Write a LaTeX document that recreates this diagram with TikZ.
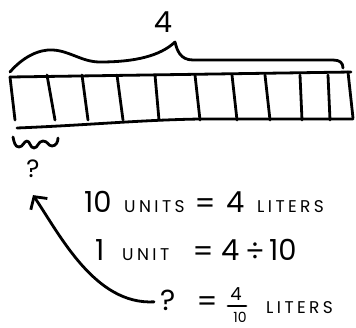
\documentclass[tikz,border=0pt]{standalone}
\usepackage{fontspec}
\setmainfont{Poppins}
\usetikzlibrary{arrows.meta}
\begin{document}
\begin{tikzpicture}[x=1pt,y=-1pt,
  pen/.style={line width=2.8pt, line cap=round, line join=round},
  big/.style={font=\fontsize{29}{29}\selectfont, inner sep=0pt},
  mid/.style={font=\fontsize{18}{18}\selectfont, inner sep=0pt},
  small/.style={font=\fontsize{17}{17}\selectfont\addfontfeature{LetterSpace=20}, inner sep=0pt}]
\useasboundingbox (0,0) rectangle (356,327);
% bar
\draw[pen] (10,77) -- (351,72);
\draw[pen] (17,128) .. controls (90,125) and (140,120) .. (200,119) -- (353,119);
\draw[pen] (10,77) -- (15,120);
\draw[pen] (348,72) -- (353,118);
\foreach \a/\b in {47/55,82/88,117/123,155/159,195/200,232/237,265/270,300/302,328/330}
  \draw[pen] (\a,75) -- (\b,120);
% big brace
\draw[pen] (10,72) .. controls (22,58) and (38,49) .. (53,50)
  .. controls (70,51) and (82,62) .. (100,62)
  .. controls (135,62) and (160,56) .. (175,42)
  .. controls (177,50) and (180,60) .. (193,60) -- (333,60)
  .. controls (340,60) and (343,63) .. (343,68);
\node[big] (four) at (163,22) {4};
% small brace
\draw[pen] (13,137) .. controls (14,142) and (15,147) .. (19,147)
  .. controls (23,147) and (24,141) .. (27,141)
  .. controls (30,141) and (30,148) .. (34,148)
  .. controls (38,148) and (38,141) .. (43,141)
  .. controls (48,141) and (48,146) .. (52,146)
  .. controls (56,146) and (58,142) .. (58,138);
\node[font=\fontsize{25}{25}\selectfont, inner sep=0pt] (q1) at (33,169) {?};
% line 1
\node[big, anchor=base west] (l1a) at (84,212) {10};
\node[small, anchor=base west] (l1b) at (124,212) {UNITS};
\node[big] (l1c) at (205,206) {=};
\node[big, anchor=base west] (l1d) at (226,212) {4};
\node[small, anchor=base west] (l1e) at (257,212) {LITERS};
% line 2
\node[big, anchor=base west] (l2a) at (95,260) {1};
\node[small, anchor=base west] (l2b) at (122,260) {UNIT};
\node[big] (l2c) at (203,254) {=};
\node[big, anchor=base west] (l2d) at (221,260) {4};
\node[big] (l2e) at (255,252) {÷};
\node[big, anchor=base west] (l2f) at (269,260) {10};
% line 3
\node[big, anchor=base west] (q2) at (160,310) {?};
\node[big] (l3b) at (207,304) {=};
\node[mid] (num) at (236,294) {4};
\draw[pen] (228,306) -- (246,306);
\node[font=\fontsize{14}{14}\selectfont, inner sep=0pt] (den) at (240,317) {10};
\node[small, anchor=base west] (l3c) at (266,313) {LITERS};
% arrow
\draw[pen, -{Straight Barb[length=9pt,width=20pt]}]
  ([xshift=-6pt,yshift=-2pt]q2.west) .. controls (95,305) and (60,235) .. ([yshift=-17pt]q1.south);
\end{tikzpicture}
\end{document}
